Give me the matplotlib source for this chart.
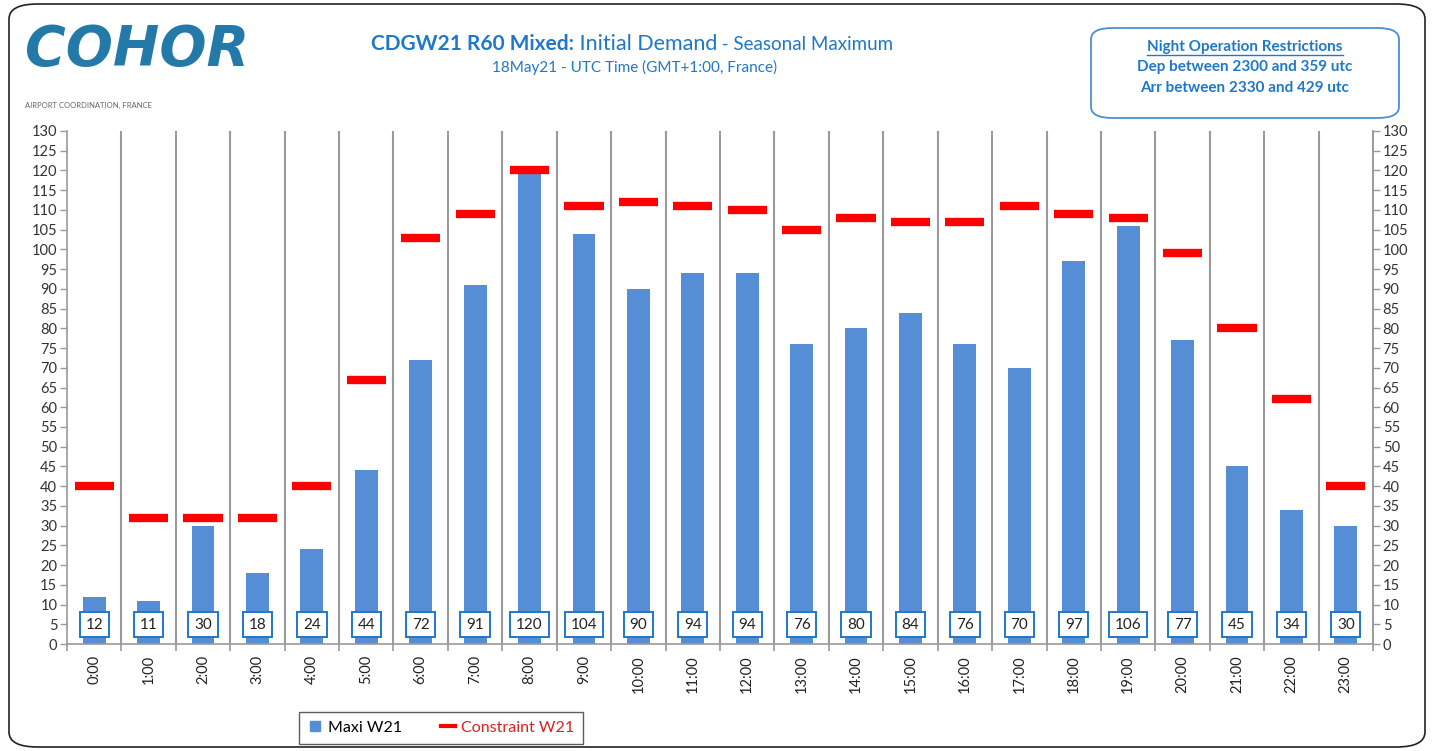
import matplotlib
matplotlib.use('Agg')
import matplotlib.pyplot as plt
import numpy as np
from matplotlib.patches import FancyBboxPatch
from matplotlib.lines import Line2D

plt.rcParams['font.family'] = ['Lato', 'DejaVu Sans']

# Datos
hours = ['%d:00' % h for h in range(24)]
maxi_w21 = [12, 11, 30, 18, 24, 44, 72, 91, 120, 104, 90, 94, 94, 76, 80, 84, 76, 70, 97, 106, 77, 45, 34, 30]
constraint_w21 = [40, 32, 32, 32, 40, 67, 103, 109, 120, 111, 112, 111, 110, 105, 108, 107, 107, 111, 109, 108, 99, 80, 62, 40]
y_ticks = list(range(0, 131, 5))

blue = '#558ed5'
title_blue = '#1f78c8'
grey = '#9a9a9a'

fig = plt.figure(figsize=(14.35, 7.51), dpi=100)
ax = fig.add_axes([67/1435, 1-644/751, (1373-67)/1435, 513/751])

x = np.arange(len(hours))
ax.bar(x, maxi_w21, width=0.42, color=blue, zorder=2)
ax.hlines(constraint_w21, x-0.36, x+0.36, colors='#ff0000', linewidth=6, zorder=3)

# Etiquetas de valor
for xi, v in zip(x, maxi_w21):
    ax.text(xi, 4.9, str(v), ha='center', va='center', fontsize=11, color='#222222', zorder=5,
            bbox=dict(boxstyle='square,pad=0.38', fc='white', ec='#1f78c8', lw=1.4))

# Separadores verticales
for b in np.arange(0.5, len(hours)-1, 1):
    ax.axvline(b, color=grey, lw=1.5, zorder=1)

ax.set_xlim(-0.5, len(hours)-0.5)
ax.set_ylim(0, 130)
ax.set_yticks(y_ticks)
ax.set_yticklabels([str(t) for t in y_ticks], fontsize=10.5, color='#333333')
ax.set_xticks(x)
ax.set_xticklabels(hours, rotation=90, fontsize=10.5, color='#222222')
ax.tick_params(axis='x', length=0, pad=8)
ax.set_xticks(np.arange(-0.5, len(hours), 1), minor=True)
ax.tick_params(axis='x', which='minor', length=5, color=grey, width=1.2)
ax.tick_params(axis='y', length=5, color=grey, width=1, pad=2)
ax.spines['top'].set_visible(False)
for s in ['left', 'right', 'bottom']:
    ax.spines[s].set_color(grey)
    ax.spines[s].set_linewidth(1.2)

ax2 = ax.twinx()
ax2.set_ylim(0, 130)
ax2.set_yticks(y_ticks)
ax2.set_yticklabels([str(t) for t in y_ticks], fontsize=10.5, color='#333333')
ax2.tick_params(axis='y', length=5, color=grey, width=1, pad=2)
for s in ['top', 'left', 'bottom']:
    ax2.spines[s].set_visible(False)
ax2.spines['right'].set_color(grey)
ax2.spines['right'].set_linewidth(1.2)

# Leyenda
handles = [Line2D([], [], marker='s', color='none', markerfacecolor=blue, markeredgecolor=blue, markersize=7),
           Line2D([], [], color='#ff0000', lw=3)]
leg = fig.legend(handles, ['Maxi W21', 'Constraint W21'], loc='center', bbox_to_anchor=(441/1435, 1-728/751),
                 ncol=2, fontsize=11.5, frameon=True, fancybox=False, handlelength=0.9, handletextpad=0.4,
                 columnspacing=2.4, borderpad=0.55, borderaxespad=0)
leg.get_frame().set_edgecolor('#333333')
leg.get_frame().set_linewidth(1)
leg.get_texts()[1].set_color('#e02020')

# Marco exterior
fig.patches.append(FancyBboxPatch((9/1435, 4/751), 1416/1435, 743/751, boxstyle='round,pad=0,rounding_size=0.02',
                                  transform=fig.transFigure, fc='none', ec='#222222', lw=1.2))

# Logo
fig.text(25/1435, 1-50/751, 'COHOR', fontsize=40, fontstyle='italic', fontweight='bold', color='#2379a8',
         va='center', ha='left', family='DejaVu Sans')
fig.text(25/1435, 1-105/751, 'AIRPORT COORDINATION, FRANCE', fontsize=5.5, color='#666666', va='center', ha='left')

# Titulo
yt = 1-44/751
t1 = fig.text(371/1435, yt, 'CDGW21 R60 Mixed:', fontsize=15, fontweight='bold', color=title_blue, va='center', ha='left')
fig.canvas.draw()
r = fig.canvas.get_renderer()
bb = t1.get_window_extent(r)
t2 = fig.text(bb.x1/fig.bbox.width, yt, ' Initial Demand', fontsize=15.5, color=title_blue, va='center', ha='left')
fig.canvas.draw()
bb2 = t2.get_window_extent(r)
fig.text(bb2.x1/fig.bbox.width, yt, ' - Seasonal Maximum', fontsize=13.5, color=title_blue, va='center', ha='left')
fig.text(635/1435, 1-67/751, '18May21 - UTC Time (GMT+1:00, France)', fontsize=11, color=title_blue, va='center', ha='center')

# Recuadro de restricciones nocturnas
fig.patches.append(FancyBboxPatch((1091/1435, 1-118/751), 308/1435, 90/751, boxstyle='round,pad=0,rounding_size=0.015',
                                  transform=fig.transFigure, fc='white', ec='#4a90d0', lw=1.3))
n1 = fig.text(1245/1435, 1-47/751, 'Night Operation Restrictions', fontsize=11, fontweight='bold', color=title_blue, ha='center', va='center')
fig.text(1245/1435, 1-67/751, 'Dep between 2300 and 359 utc', fontsize=11, fontweight='bold', color=title_blue, ha='center', va='center')
fig.text(1245/1435, 1-88/751, 'Arr between 2330 and 429 utc', fontsize=11, fontweight='bold', color=title_blue, ha='center', va='center')
fig.canvas.draw()
nb = n1.get_window_extent(r)
fig.add_artist(Line2D([nb.x0/fig.bbox.width, nb.x1/fig.bbox.width], [(nb.y0-1)/fig.bbox.height]*2,
                      transform=fig.transFigure, color=title_blue, lw=1))

plt.savefig('out.png', dpi=100)
